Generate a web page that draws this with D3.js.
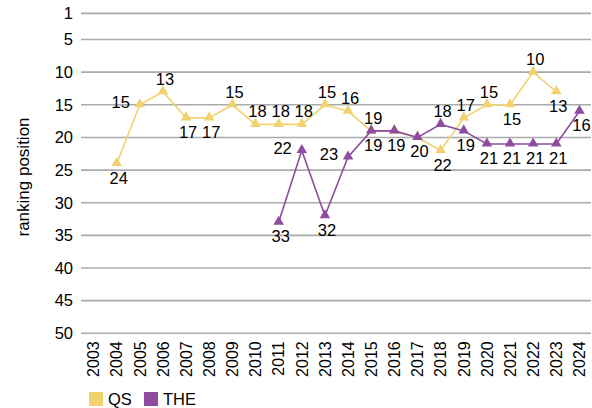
<!DOCTYPE html>
<html>
<head>
<meta charset="utf-8">
<script src="https://cdn.jsdelivr.net/npm/d3@7"></script>
<style>
  body { margin: 0; background: #fff; }
  svg text { font-family: "Liberation Sans", Arial, sans-serif; fill: #000; }
</style>
</head>
<body>
<div id="chart"></div>
<script>
const width = 592, height = 408;

// data
const years = d3.range(2003, 2025).map(String);
const yTicks = [1, 5, 10, 15, 20, 25, 30, 35, 40, 45, 50];
const qsRank = [null, 24, 15, 13, 17, 17, 15, 18, 18, 18, 15, 16, 19, 19, 20, 22, 17, 15, 15, 10, 13, null];
const theRank = [null, null, null, null, null, null, null, null, 33, 22, 32, 23, 19, 19, 20, 18, 19, 21, 21, 21, 21, 16];

// where each data label sits (a = above, b = below, l = left, n/- = none)
const qsLabelPos = "-blabbaaaaaaannbaabab-";
const theLabelPos = "--------blblbbbabbbbbb";

const plot = { left: 82, right: 591, top: 13.4, bottom: 333.3 };

const svg = d3.select("#chart").append("svg")
    .attr("width", width)
    .attr("height", height);

const x = d3.scaleBand().domain(years).range([plot.left, plot.right]);
const y = d3.scaleLinear().domain([1, 50]).range([plot.top, plot.bottom]);

// gridlines
svg.append("g")
    .selectAll("line")
    .data(yTicks)
    .enter().append("line")
    .attr("x1", plot.left - 1)
    .attr("x2", plot.right)
    .attr("y1", d => y(d))
    .attr("y2", d => y(d))
    .attr("stroke", "#ababab")
    .attr("stroke-width", 1.6);

// y axis labels
const yAxis = svg.append("g")
    .attr("transform", `translate(${plot.left - 9},0)`)
    .call(d3.axisLeft(y).tickValues(yTicks).tickSize(0).tickPadding(0));
yAxis.select(".domain").remove();
yAxis.selectAll("text")
    .style("font-size", "16.5px")
    .style("font-family", "Liberation Sans, Arial, sans-serif")
    .attr("fill", "#000");

// x axis labels (rotated)
const xAxis = svg.append("g")
    .attr("transform", `translate(0,${plot.bottom})`)
    .call(d3.axisBottom(x).tickSize(0).tickPadding(0));
xAxis.select(".domain").remove();
xAxis.selectAll("text")
    .style("font-size", "16px")
    .style("font-family", "Liberation Sans, Arial, sans-serif")
    .attr("fill", "#000")
    .attr("text-anchor", "end")
    .attr("transform", "rotate(-90)")
    .attr("x", -8)
    .attr("y", 0)
    .attr("dy", "0.36em");

// y title
svg.append("text")
    .attr("transform", `translate(29,177) rotate(-90)`)
    .attr("text-anchor", "middle")
    .style("font-size", "17px")
    .text("ranking position");

const series = [
    { name: "QS", values: qsRank, pos: qsLabelPos, color: "#f1d26f" },
    { name: "THE", values: theRank, pos: theLabelPos, color: "#8d4c9e" }
];

const cx = i => x(years[i]) + x.bandwidth() / 2;

const line = d3.line()
    .defined(d => d.v != null)
    .x(d => cx(d.i))
    .y(d => y(d.v));

const tri = d3.symbol().type(d3.symbolTriangle).size(48);

series.forEach(s => {
    const pts = s.values.map((v, i) => ({ v, i }));
    const g = svg.append("g");
    g.append("path")
        .datum(pts)
        .attr("fill", "none")
        .attr("stroke", s.color)
        .attr("stroke-width", 1.6)
        .attr("d", line);
    g.selectAll("path.mark")
        .data(pts.filter(d => d.v != null))
        .enter().append("path")
        .attr("class", "mark")
        .attr("transform", d => `translate(${cx(d.i)},${y(d.v) - 0.5})`)
        .attr("fill", s.color)
        .attr("d", tri);
});

// data labels drawn last so lines don't cover them
series.forEach(s => {
    const pts = s.values.map((v, i) => ({ v, i, p: s.pos[i] }))
        .filter(d => d.v != null && "abl".includes(d.p));
    svg.append("g").selectAll("text")
        .data(pts)
        .enter().append("text")
        .style("font-size", "16.5px")
        .attr("text-anchor", d => d.p === "l" ? "end" : "middle")
        .attr("x", d => d.p === "l" ? cx(d.i) - 10 : Math.min(cx(d.i) + 2, width - 10))
        .attr("y", d => d.p === "a" ? y(d.v) - 7 : d.p === "b" ? y(d.v) + 20 : y(d.v) + 3)
        .text(d => d.v);
});

// legend
const legend = svg.append("g").attr("transform", "translate(89,392)");
const legendX = [0, 55];
series.forEach((s, k) => {
    legend.append("rect")
        .attr("x", legendX[k])
        .attr("y", 0)
        .attr("width", 14)
        .attr("height", 14)
        .attr("fill", s.color);
    legend.append("text")
        .attr("x", legendX[k] + 19)
        .attr("y", 13)
        .style("font-size", "16.5px")
        .text(s.name);
});
</script>
</body>
</html>
